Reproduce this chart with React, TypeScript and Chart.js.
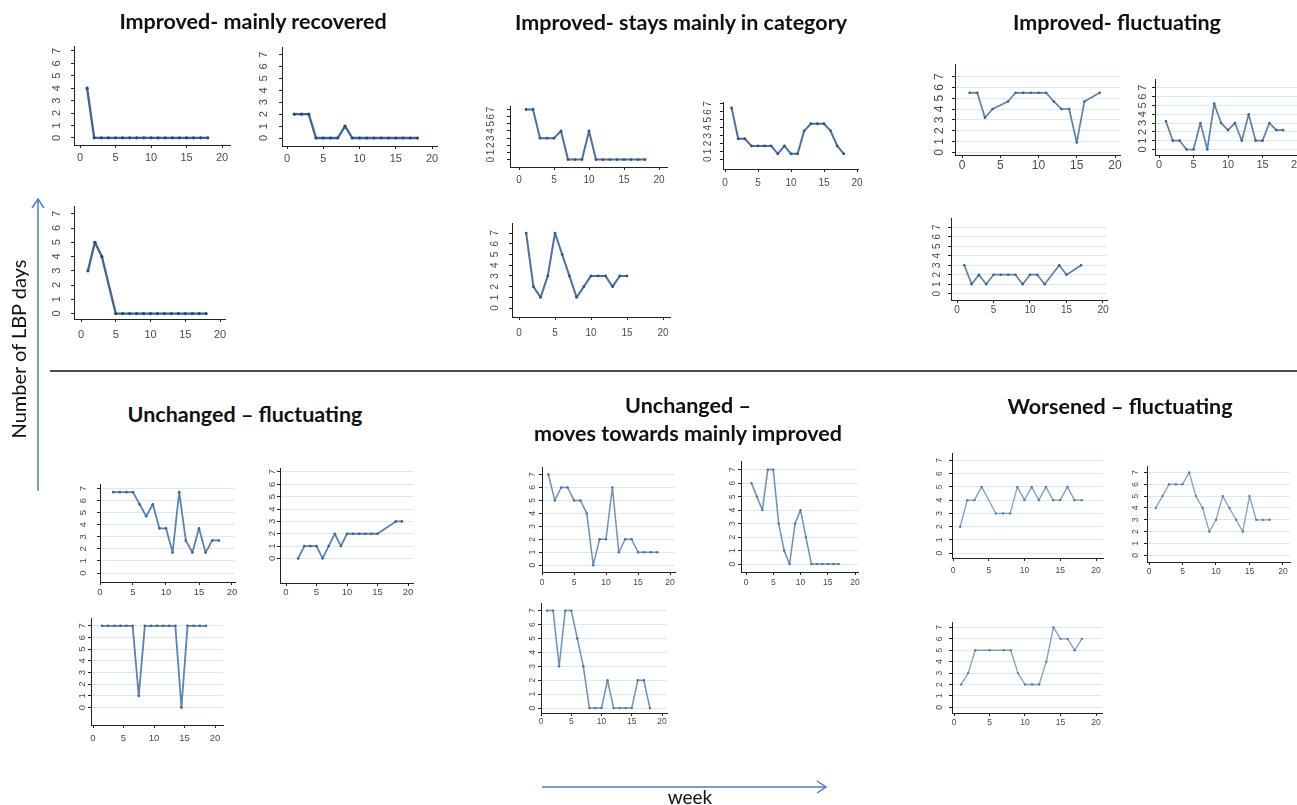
import React, { useEffect, useRef } from "react";
import { Chart, registerables } from "chart.js";

Chart.register(...registerables);

// ---------------- data: week (x) and number of LBP days (y) ----------------
const weeks1to18 = [1, 2, 3, 4, 5, 6, 7, 8, 9, 10, 11, 12, 13, 14, 15, 16, 17, 18];
const weeks1to17 = [1, 2, 3, 4, 5, 6, 7, 8, 9, 10, 11, 12, 13, 14, 15, 16, 17];
const weeks1to15 = [1, 2, 3, 4, 5, 6, 7, 8, 9, 10, 11, 12, 13, 14, 15];
const weeks2to18 = [2, 3, 4, 5, 6, 7, 8, 9, 10, 11, 12, 13, 14, 15, 16, 17, 18];
const weeks2to19 = [2, 3, 4, 5, 6, 7, 8, 9, 10, 11, 12, 13, 14, 15, 16, 17, 18, 19];
const weeksL = [1.5, 2.5, 3.5, 4.5, 5.5, 6.5, 7.5, 8.5, 9.5, 10.5, 11.5, 12.5, 13.5, 14.5, 15.5, 16.5, 17.5, 18.5];

// Improved - mainly recovered
const daysA = [4, 0, 0, 0, 0, 0, 0, 0, 0, 0, 0, 0, 0, 0, 0, 0, 0, 0];
const daysB = [2, 2, 2, 0, 0, 0, 0, 1, 0, 0, 0, 0, 0, 0, 0, 0, 0, 0];
const daysC = [3, 5, 4, null, 0, 0, 0, 0, 0, 0, 0, 0, 0, 0, 0, 0, 0, 0];
// Improved - stays mainly in category
const daysD = [7, 7, 3, 3, 3, 4, 0, 0, 0, 4, 0, 0, 0, 0, 0, 0, 0, 0];
const daysE = [6.5, 2.6, 2.6, 1.7, 1.7, 1.7, 1.7, 0.7, 1.7, 0.7, 0.7, 3.6, 4.5, 4.5, 4.5, 3.6, 1.7, 0.7];
const daysF = [7, 2, 1, 3, 7, 5, 3, 1, 2, 3, 3, 3, 2, 3, 3];
// Improved - fluctuating
const daysG = [5.5, 5.5, 3.2, 4, null, 4.7, 5.5, 5.5, 5.5, 5.5, 5.5, 4.7, 4, 4, 0.9, 4.7, null, 5.5];
const daysH = [3.2, 1, 1, 0, 0, 3, 0, 5.2, 3, 2.2, 3, 1, 4, 1, 1, 3, 2.2, 2.2];
const daysI = [3, 1, 2, 1, 2, 2, 2, 2, 1, 2, 2, 1, null, 3, 2, null, 3];
// Unchanged - fluctuating
const daysJ = [6.7, 6.7, 6.7, 6.7, 5.7, 4.7, 5.7, 3.7, 3.7, 1.7, 6.7, 2.7, 1.7, 3.7, 1.7, 2.7, 2.7];
const daysK = [0, 1, 1, 1, 0, 1, 2, 1, 2, 2, 2, 2, 2, 2, null, null, 3, 3];
const daysL = [7, 7, 7, 7, 7, 7, 1, 7, 7, 7, 7, 7, 7, 0, 7, 7, 7, 7];
// Unchanged - moves towards mainly improved
const daysM = [7, 5, 6, 6, 5, 5, 4, 0, 2, 2, 6, 1, 2, 2, 1, 1, 1, 1];
const daysN = [6, 5, 4, 7, 7, 3, 1, 0, 3, 4, 2, 0, 0, 0, 0, 0, 0];
const daysO = [7, 7, 3, 7, 7, 5, 3, 0, 0, 0, 2, 0, 0, 0, 0, 2, 2, 0];
// Worsened - fluctuating
const daysP = [2, 4, 4, 5, null, 3, 3, 3, 5, 4, 5, 4, 5, 4, 4, 5, 4, 4];
const daysQ = [4, 5, 6, 6, 6, 7, 5, 4, 2, 3, 5, 4, 3, 2, 5, 3, 3, 3];
const daysR = [2, 3, 5, null, 5, null, 5, 5, 3, 2, 2, 2, 4, 7, 6, 6, 5, 6];

const xTickValues = [0, 5, 10, 15, 20];
const yTickValues = [0, 1, 2, 3, 4, 5, 6, 7];

const groupTitles = [
  { lines: ["Improved- mainly recovered"], cx: 253, cy: 21 },
  { lines: ["Improved- stays mainly in category"], cx: 681, cy: 22 },
  { lines: ["Improved- fluctuating"], cx: 1117, cy: 22 },
  { lines: ["Unchanged \u2013 fluctuating"], cx: 245, cy: 414 },
  { lines: ["Unchanged \u2013", "moves towards mainly improved"], cx: 688, cy: 419 },
  { lines: ["Worsened \u2013 fluctuating"], cx: 1120, cy: 406 },
];
const yAxisTitle = "Number of LBP days";
const xAxisTitle = "week";

// ---------------- styles / layout ----------------
const STY = {
  top1: { line: "#3d6692", width: 2.3, point: "#274a72", r: 1.6 },
  top2: { line: "#4a72a0", width: 2, point: "#2f5580", r: 1.4 },
  top3: { line: "#5a82b0", width: 1.7, point: "#3b618f", r: 1.3 },
  bot1: { line: "#5b83b3", width: 1.8, point: "#3b618f", r: 1.3 },
  bot2: { line: "#6a91bd", width: 1.5, point: "#4a6f99", r: 1.2 },
  bot3: { line: "#7c9fc7", width: 1.3, point: "#5a7ea8", r: 1.2 },
};

const panels = [
  { weeks: weeks1to18, days: daysA, sty: "top1", grid: false, box: { left: 74, right: 230, top: 35, bottom: 145, x0: 80, x20: 222, y0: 137, y7: 40, yGap: 17, xGap: 12, fs: 11 } },
  { weeks: weeks1to18, days: daysB, sty: "top1", grid: false, box: { left: 282, right: 437, top: 35, bottom: 146, x0: 287, x20: 432, y0: 137, y7: 43, yGap: 18, xGap: 12, fs: 11 } },
  { weeks: weeks1to18, days: daysC, sty: "top1", grid: false, box: { left: 74, right: 225, top: 195, bottom: 319, x0: 81, x20: 220, y0: 313, y7: 203, yGap: 17, xGap: 15, fs: 11 } },
  { weeks: weeks1to18, days: daysD, sty: "top2", grid: false, box: { left: 510, right: 667, top: 93, bottom: 167, x0: 519, x20: 659, y0: 158, y7: 97, yGap: 19, xGap: 12, fs: 10 } },
  { weeks: weeks1to18, days: daysE, sty: "top2", grid: false, box: { left: 723, right: 858, top: 93, bottom: 169, x0: 725, x20: 857, y0: 158, y7: 95, yGap: 15, xGap: 13, fs: 10 } },
  { weeks: weeks1to15, days: daysF, sty: "top2", grid: false, box: { left: 512, right: 670, top: 212, bottom: 317, x0: 519, x20: 663, y0: 307, y7: 223, yGap: 17, xGap: 15, fs: 10 } },
  { weeks: weeks1to18, days: daysG, sty: "top3", grid: true, box: { left: 955, right: 1120, top: 55, bottom: 155, x0: 962, x20: 1115, y0: 152, y7: 68, yGap: 15, xGap: 9, fs: 12 } },
  { weeks: weeks1to18, days: daysH, sty: "top3", grid: true, box: { left: 1155, right: 1297, top: 73, bottom: 155, x0: 1159, x20: 1297, y0: 149, y7: 82, yGap: 12, xGap: 9, fs: 11 } },
  { weeks: weeks1to17, days: daysI, sty: "top3", grid: true, box: { left: 951, right: 1107, top: 210, bottom: 300, x0: 957, x20: 1103, y0: 293, y7: 220, yGap: 14, xGap: 9, fs: 10 } },
  { weeks: weeks2to18, days: daysJ, sty: "bot1", grid: true, box: { left: 100, right: 235, top: 473, bottom: 582, x0: 100, x20: 232, y0: 572, y7: 478, yGap: 17, xGap: 9, fs: 9.5 } },
  { weeks: weeks2to19, days: daysK, sty: "bot1", grid: true, box: { left: 280, right: 413, top: 466, bottom: 583, x0: 286, x20: 408, y0: 558, y7: 470, yGap: 8, xGap: 8, fs: 9.5 } },
  { weeks: weeksL, days: daysL, sty: "bot1", grid: true, box: { left: 91, right: 223, top: 615, bottom: 725, x0: 93, x20: 215, y0: 707, y7: 623, yGap: 9, xGap: 12, fs: 9.5 } },
  { weeks: weeks1to18, days: daysM, sty: "bot2", grid: true, box: { left: 542, right: 675, top: 465, bottom: 572, x0: 542, x20: 670, y0: 565, y7: 472, yGap: 9, xGap: 10, fs: 8.5 } },
  { weeks: weeks1to17, days: daysN, sty: "bot2", grid: true, box: { left: 741, right: 858, top: 460, bottom: 572, x0: 746, x20: 855, y0: 564, y7: 468, yGap: 8, xGap: 10, fs: 8.5 } },
  { weeks: weeks1to18, days: daysO, sty: "bot2", grid: true, box: { left: 541, right: 667, top: 602, bottom: 713, x0: 541, x20: 662, y0: 708, y7: 609, yGap: 8, xGap: 8, fs: 8.5 } },
  { weeks: weeks1to18, days: daysP, sty: "bot3", grid: true, box: { left: 952, right: 1103, top: 448, bottom: 558, x0: 953, x20: 1096, y0: 553, y7: 455, yGap: 12, xGap: 12, fs: 8.5 } },
  { weeks: weeks1to18, days: daysQ, sty: "bot3", grid: true, box: { left: 1147, right: 1290, top: 462, bottom: 562, x0: 1149, x20: 1283, y0: 555, y7: 468, yGap: 11, xGap: 9, fs: 8.5 } },
  { weeks: weeks1to18, days: daysR, sty: "bot3", grid: true, box: { left: 952, right: 1102, top: 617, bottom: 713, x0: 954, x20: 1096, y0: 707, y7: 622, yGap: 12, xGap: 9, fs: 8.5 } },
];

const YW = 28; // room left of the y axis line
const XH = 26; // room below the x axis line
const PT = 6;
const PR = 12;
const TL = 3; // tick length

function Panel({ p }: { p: any }) {
  const ref = useRef<HTMLCanvasElement | null>(null);
  const b = p.box;
  const L = Math.round(b.left);
  const R = Math.round(b.right);
  const T = Math.round(b.top);
  const B = Math.round(b.bottom);
  const w = R - L + YW + PR;
  const h = B - T + PT + XH;

  useEffect(() => {
    if (!ref.current) return;
    const s = (STY as any)[p.sty];
    const ux = (b.x20 - b.x0) / 20;
    const uy = (b.y0 - b.y7) / 7;
    const xmin = (L - b.x0) / ux;
    const xmax = (R - b.x0) / ux;
    const ymin = -(B - b.y0) / uy;
    const ymax = (b.y0 - T) / uy;
    const font = { family: "'Liberation Sans', Arial, sans-serif", size: b.fs };
    const labelColor = "#4a4a4a";
    const chart = new Chart(ref.current, {
      type: "line",
      data: {
        datasets: [
          {
            data: p.weeks.map((wk: number, i: number) => ({ x: wk, y: p.days[i] })),
            borderColor: s.line,
            borderWidth: s.width,
            pointRadius: s.r,
            pointBackgroundColor: s.point,
            pointBorderWidth: 0,
            spanGaps: true,
            tension: 0,
            borderJoinStyle: "round",
            borderCapStyle: "round",
            clip: 8,
          },
        ],
      },
      options: {
        animation: false,
        responsive: false,
        maintainAspectRatio: false,
        events: [],
        layout: { padding: { left: 0, right: PR, top: PT, bottom: 0 } },
        plugins: { legend: { display: false }, tooltip: { enabled: false }, title: { display: false } },
        scales: {
          x: {
            type: "linear",
            min: xmin,
            max: xmax,
            afterBuildTicks: (sc: any) => {
              sc.ticks = xTickValues.map((v) => ({ value: v }));
            },
            afterFit: (sc: any) => {
              sc.height = XH;
            },
            ticks: {
              autoSkip: false,
              maxRotation: 0,
              minRotation: 0,
              padding: Math.max(0, b.xGap - TL - b.fs * 0.5),
              font,
              color: labelColor,
            },
            grid: { display: true, drawOnChartArea: false, drawTicks: true, tickLength: TL, tickColor: "#222", tickWidth: 1 },
            border: { display: true, color: "#222", width: 1 },
          },
          y: {
            type: "linear",
            min: ymin,
            max: ymax,
            afterBuildTicks: (sc: any) => {
              sc.ticks = yTickValues.map((v) => ({ value: v }));
            },
            afterFit: (sc: any) => {
              sc.width = YW;
            },
            ticks: {
              autoSkip: false,
              minRotation: 90,
              maxRotation: 90,
              crossAlign: "center",
              padding: Math.max(0, b.yGap - TL - b.fs * 0.28),
              font,
              color: labelColor,
            },
            grid: {
              display: true,
              drawOnChartArea: p.grid,
              color: "#dce9f2",
              lineWidth: 1,
              drawTicks: true,
              tickLength: TL,
              tickColor: "#222",
              tickWidth: 1,
            },
            border: { display: true, color: "#222", width: 1 },
          },
        },
      } as any,
    });
    return () => chart.destroy();
  }, []);

  return (
    <canvas
      ref={ref}
      width={w}
      height={h}
      style={{ position: "absolute", left: L - YW, top: T - PT, width: w, height: h }}
    />
  );
}

export default function App() {
  useEffect(() => {
    document.body.style.margin = "0";
    document.body.style.overflow = "hidden";
  }, []);

  const titleFont = "Lato, 'Open Sans', 'Liberation Sans', sans-serif";

  return (
    <div
      style={{
        position: "absolute",
        left: 0,
        top: 0,
        width: 1297,
        height: 805,
        overflow: "hidden",
        background: "#ffffff",
        fontFamily: titleFont,
      }}
    >
      {panels.map((p, i) => (
        <Panel key={i} p={p} />
      ))}

      {groupTitles.map((t, i) => (
        <div
          key={"t" + i}
          style={{
            position: "absolute",
            left: t.cx - 250,
            top: t.cy - (t.lines.length * 28) / 2,
            width: 500,
            textAlign: "center",
            fontWeight: 700,
            fontSize: 21.5,
            lineHeight: "28px",
            color: "#111",
            whiteSpace: "nowrap",
          }}
        >
          {t.lines.map((ln, j) => (
            <div key={j}>{ln}</div>
          ))}
        </div>
      ))}

      <svg
        width={1297}
        height={805}
        style={{ position: "absolute", left: 0, top: 0, pointerEvents: "none" }}
      >
        <line x1={50} y1={371} x2={1297} y2={371} stroke="#111" strokeWidth={1.5} />
        <line x1={38} y1={491} x2={38} y2={199} stroke="#4a7ec2" strokeWidth={1.5} />
        <polyline points="32,208 38,199 44,208" fill="none" stroke="#4a7ec2" strokeWidth={1.5} />
        <line x1={542} y1={787} x2={826} y2={787} stroke="#4a7ec2" strokeWidth={1.5} />
        <polyline points="817,781 826,787 817,793" fill="none" stroke="#4a7ec2" strokeWidth={1.5} />
      </svg>

      <div
        style={{
          position: "absolute",
          left: 18 - 120,
          top: 349 - 12,
          width: 240,
          height: 24,
          lineHeight: "24px",
          textAlign: "center",
          transform: "rotate(-90deg)",
          fontSize: 20,
          color: "#111",
          whiteSpace: "nowrap",
        }}
      >
        {yAxisTitle}
      </div>
      <div
        style={{
          position: "absolute",
          left: 690 - 60,
          top: 797 - 11,
          width: 120,
          height: 22,
          lineHeight: "22px",
          textAlign: "center",
          fontSize: 19,
          color: "#111",
        }}
      >
        {xAxisTitle}
      </div>
    </div>
  );
}
